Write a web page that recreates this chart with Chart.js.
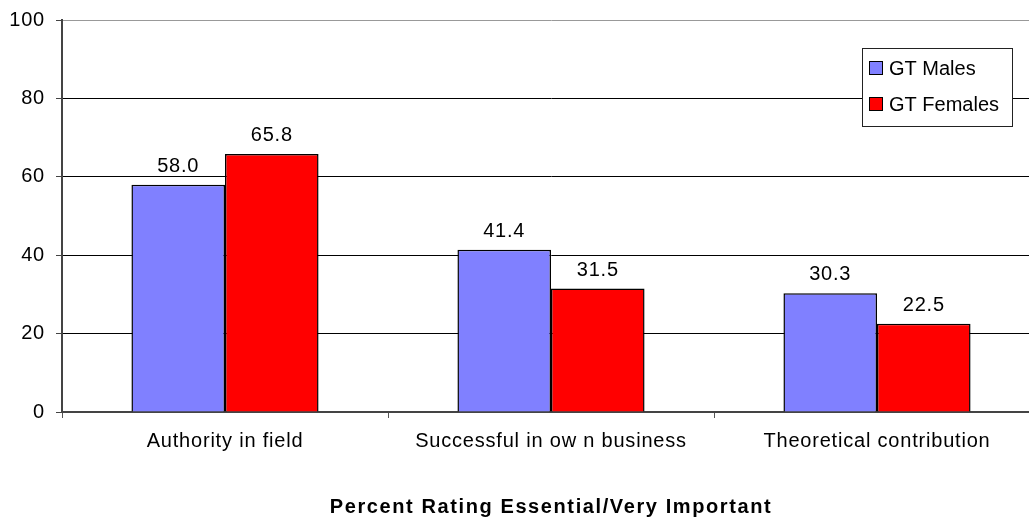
<!DOCTYPE html>
<html>
<head>
<meta charset="utf-8">
<script src="https://cdn.jsdelivr.net/npm/chart.js@4/dist/chart.umd.min.js"></script>
<style>
  html, body { margin: 0; padding: 0; background: #fff; overflow: hidden; }
  #wrap { width: 1029px; height: 517px; overflow: hidden; }
</style>
</head>
<body>
<div id="wrap"><canvas id="chart" width="1040" height="517"></canvas></div>
<script>
// Data
const categories = ['Authority in field', 'Successful in ow n business', 'Theoretical contribution'];
const seriesNames = ['GT Males', 'GT Females'];
const malesValues = [58.0, 41.4, 30.3];
const femalesValues = [65.8, 31.5, 22.5];
const yTicks = [0, 20, 40, 60, 80, 100];
const xAxisTitle = 'Percent Rating Essential/Very Important';

const COLORS = {
    males: '#8080FF',
    females: '#FF0000'
};

const FONT_FAMILY = 'Arial, "Liberation Sans", sans-serif';
const TEXT_SPACING = '0.8px';

// Slightly spread-out glyphs for axis text
const spacing = {
    id: 'spacing',
    beforeDraw(chart) {
        chart.ctx.letterSpacing = TEXT_SPACING;
    }
};

// Value labels above each bar
const barLabels = {
    id: 'barLabels',
    afterDatasetsDraw(chart) {
        const ctx = chart.ctx;
        ctx.save();
        ctx.letterSpacing = TEXT_SPACING;
        ctx.font = `20px ${FONT_FAMILY}`;
        ctx.fillStyle = '#000';
        ctx.textAlign = 'center';
        ctx.textBaseline = 'alphabetic';
        chart.data.datasets.forEach((ds, i) => {
            chart.getDatasetMeta(i).data.forEach((bar, j) => {
                ctx.fillText(ds.data[j].toFixed(1), bar.x, bar.y - 13);
            });
        });
        ctx.restore();
    }
};

// Bold axis title under the category labels
const axisTitle = {
    id: 'axisTitle',
    afterDraw(chart) {
        const ctx = chart.ctx;
        const area = chart.chartArea;
        ctx.save();
        ctx.letterSpacing = '1.6px';
        ctx.font = `bold 20px ${FONT_FAMILY}`;
        ctx.fillStyle = '#000';
        ctx.textAlign = 'center';
        ctx.textBaseline = 'middle';
        ctx.fillText(xAxisTitle, (area.left + area.right) / 2, 507);
        ctx.restore();
    }
};

// Boxed legend sitting over the plot, top right
const boxLegend = {
    id: 'boxLegend',
    afterDraw(chart) {
        const ctx = chart.ctx;
        const box = { x: 862, y: 48, w: 150, h: 78 };
        ctx.save();
        ctx.letterSpacing = '0px';
        ctx.fillStyle = '#fff';
        ctx.fillRect(box.x, box.y, box.w, box.h);
        ctx.strokeStyle = '#222';
        ctx.lineWidth = 1;
        ctx.strokeRect(box.x + 0.5, box.y + 0.5, box.w, box.h);
        ctx.font = `20px ${FONT_FAMILY}`;
        ctx.textBaseline = 'middle';
        ctx.textAlign = 'left';
        chart.data.datasets.forEach((ds, i) => {
            const cy = box.y + 21 + i * 36;
            ctx.fillStyle = ds.backgroundColor;
            ctx.fillRect(869.5, cy - 7.5, 13, 13);
            ctx.strokeStyle = '#000';
            ctx.strokeRect(869.5, cy - 7.5, 13, 13);
            ctx.fillStyle = '#000';
            ctx.fillText(ds.label, 889, cy);
        });
        ctx.restore();
    }
};

const chart = new Chart(document.getElementById('chart'), {
    type: 'bar',
    data: {
        labels: categories,
        datasets: [
            {
                label: seriesNames[0],
                data: malesValues,
                backgroundColor: COLORS.males,
                borderColor: '#000',
                borderWidth: 1.5
            },
            {
                label: seriesNames[1],
                data: femalesValues,
                backgroundColor: COLORS.females,
                borderColor: '#000',
                borderWidth: 1.5
            }
        ]
    },
    options: {
        responsive: false,
        animation: false,
        layout: { padding: { top: 20, left: 0, right: 0, bottom: 0 } },
        datasets: {
            bar: { categoryPercentage: 0.574, barPercentage: 1.0 }
        },
        plugins: {
            legend: { display: false },
            tooltip: { enabled: false }
        },
        scales: {
            x: {
                offset: true,
                grid: {
                    offset: true,
                    drawOnChartArea: false,
                    drawTicks: true,
                    tickLength: 6,
                    color: '#555'
                },
                border: { color: '#444', width: 2 },
                ticks: {
                    color: '#000',
                    padding: 11,
                    maxRotation: 0,
                    autoSkip: false,
                    font: { family: FONT_FAMILY, size: 20 }
                },
                afterFit(scale) {
                    scale.height = 105;
                    scale.paddingLeft = 0;
                    scale.paddingRight = 0;
                }
            },
            y: {
                min: 0,
                max: 100,
                afterBuildTicks(scale) {
                    scale.ticks = yTicks.map(v => ({ value: v }));
                },
                grid: {
                    color: ctx => (ctx.tick && ctx.tick.value === 100 ? '#999' : '#000'),
                    lineWidth: 1,
                    tickLength: 6,
                    tickColor: '#444'
                },
                border: { color: '#444', width: 2 },
                ticks: {
                    color: '#000',
                    padding: 11,
                    font: { family: FONT_FAMILY, size: 20 }
                },
                afterFit(scale) {
                    scale.width = 62;
                    scale.paddingTop = 0;
                    scale.paddingBottom = 0;
                }
            }
        }
    },
    plugins: [spacing, barLabels, axisTitle, boxLegend]
});
</script>
</body>
</html>
